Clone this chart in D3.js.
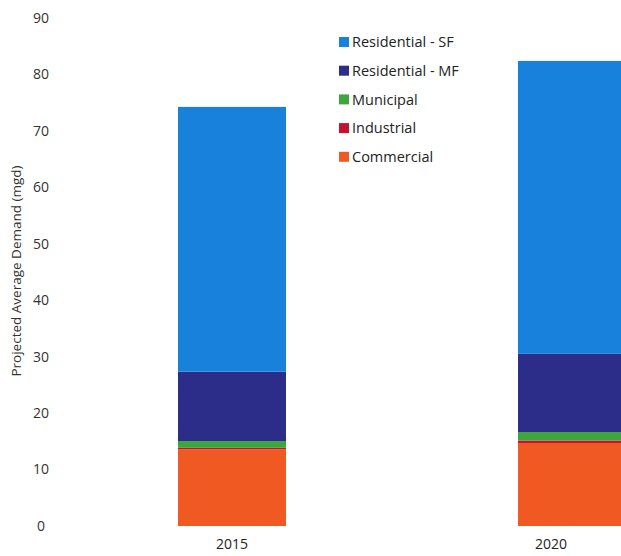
<!DOCTYPE html>
<html><head><meta charset="utf-8">
<script src="https://cdn.jsdelivr.net/npm/d3@7"></script>
<style>body{margin:0;background:#fff}svg{display:block}</style>
</head><body><svg id="c" width="621" height="556"></svg>
<script>
const years = ["2015", "2020"];
const seriesNames = ["Commercial", "Industrial", "Municipal", "Residential - MF", "Residential - SF"];
const commercial = [13.6, 14.7];
const industrial = [0.25, 0.45];
const municipal = [1.2, 1.5];
const residentialMF = [12.3, 13.85];
const residentialSF = [46.9, 51.9];
const yTicks = [0, 10, 20, 30, 40, 50, 60, 70, 80, 90];
const colors = ["#f05a22", "#c4122f", "#3da63c", "#2b2d88", "#1781dc"];
const legendOrder = ["Residential - SF", "Residential - MF", "Municipal", "Industrial", "Commercial"];

const values = [commercial, industrial, municipal, residentialMF, residentialSF];
const rows = years.map((y, i) => {
  const r = {year: y};
  seriesNames.forEach((s, k) => r[s] = values[k][i]);
  return r;
});
const stack = d3.stack().keys(seriesNames)(rows);

const svg = d3.select("#c");
const y = d3.scaleLinear().domain([0, 90]).range([526, 18]);
const xBar = d3.scaleBand().domain(years).range([178, 626]).paddingInner(0.6824).paddingOuter(0);
const xLab = d3.scalePoint().domain(years).range([232, 551]);
const color = d3.scaleOrdinal().domain(seriesNames).range(colors);

// y tick labels
svg.append("g").selectAll("text").data(yTicks).join("text")
  .attr("x", 41).attr("y", d => y(d)).attr("dy", "0.35em")
  .attr("text-anchor", "middle")
  .attr("font-family", "Open Sans, sans-serif").attr("font-size", 14).attr("fill", "#333")
  .text(d => d);

svg.append("text")
  .attr("transform", `translate(21,271) rotate(-90)`)
  .attr("text-anchor", "middle")
  .attr("font-family", "Open Sans, sans-serif").attr("font-size", 13.5).attr("fill", "#333")
  .text("Projected Average Demand (mgd)");

// bars
svg.append("g").selectAll("g").data(stack).join("g")
  .attr("fill", d => color(d.key))
  .selectAll("rect").data(d => d).join("rect")
  .attr("x", d => xBar(d.data.year))
  .attr("width", xBar.bandwidth())
  .attr("y", d => y(d[1]))
  .attr("height", d => y(d[0]) - y(d[1]));

// x labels
svg.append("g").selectAll("text").data(years).join("text")
  .attr("x", d => xLab(d)).attr("y", 549)
  .attr("text-anchor", "middle")
  .attr("font-family", "Open Sans, sans-serif").attr("font-size", 14).attr("fill", "#222")
  .text(d => d);

// legend
const lg = svg.append("g").selectAll("g").data(legendOrder).join("g")
  .attr("transform", (d, i) => `translate(339,${42 + i * 28.7})`);
lg.append("rect").attr("x", 0).attr("y", -5).attr("width", 10).attr("height", 10)
  .attr("fill", d => color(d));
lg.append("text").attr("x", 13).attr("y", 0).attr("dy", "0.36em")
  .attr("font-family", "Open Sans, sans-serif").attr("font-size", 14.5).attr("fill", "#222")
  .text(d => d);
</script></body></html>
